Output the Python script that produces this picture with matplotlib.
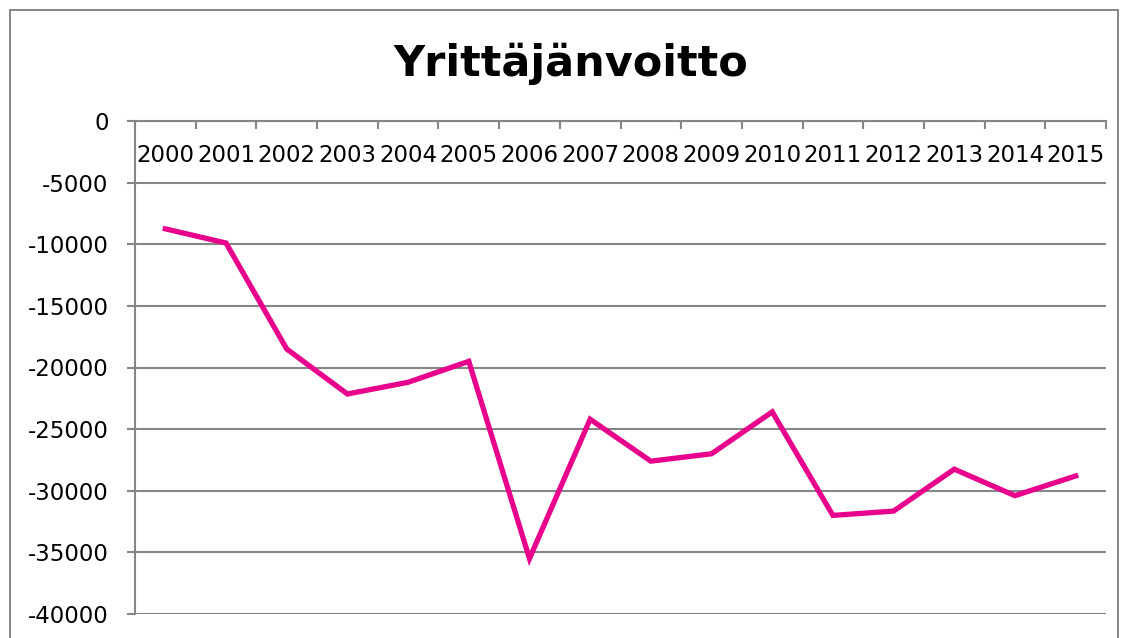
import matplotlib
matplotlib.use('Agg')
import matplotlib.pyplot as plt
import matplotlib.transforms as mtransforms
from matplotlib.patches import Rectangle
import numpy as np

# Yrittäjänvoitto vuosittain
years = ['2000', '2001', '2002', '2003', '2004', '2005', '2006', '2007',
         '2008', '2009', '2010', '2011', '2012', '2013', '2014', '2015']
values = [-8750, -9900, -18500, -22150, -21200, -19500, -35500, -24200,
          -27600, -27000, -23600, -32000, -31650, -28250, -30400, -28800]
y_ticks = [0, -5000, -10000, -15000, -20000, -25000, -30000, -35000, -40000]

W, H = 1122, 638
grid_col = '#868686'

fig = plt.figure(figsize=(W / 100, H / 100), dpi=100)
fig.patches.append(Rectangle((10 / W, -0.1), 1108 / W, 1.1 - 10 / H,
                             transform=fig.transFigure, fill=False,
                             edgecolor=grid_col, linewidth=1.4))

ax = fig.add_axes([135 / W, (H - 614) / H, (1106 - 135) / W, (614 - 121) / H])
x = np.arange(len(years))
ax.plot(x, values, color='#E8008C', linewidth=3.8, solid_joinstyle='miter')

ax.set_xlim(-0.5, len(years) - 0.5)
ax.set_ylim(-40000, 0)
ax.set_yticks(y_ticks)
ax.set_yticklabels([str(v) for v in y_ticks])
ax.yaxis.grid(True, color=grid_col, linewidth=1.5)
ax.set_axisbelow(True)

# category boundaries as ticks on the zero line
ax.set_xticks(np.arange(-0.5, len(years), 1.0))
ax.xaxis.tick_top()
ax.tick_params(axis='x', direction='in', length=6, width=1.5, color=grid_col,
               labeltop=False)
ax.tick_params(axis='y', direction='out', length=6, width=1.5, color=grid_col,
               pad=13, labelsize=16.5)

for s in ['right', 'bottom']:
    ax.spines[s].set_visible(False)
for s in ['top', 'left']:
    ax.spines[s].set_color(grid_col)
    ax.spines[s].set_linewidth(1.5)

trans = mtransforms.blended_transform_factory(ax.transData, ax.transAxes)
for i, yr in enumerate(years):
    ax.text(i, 1 - 35 / 493, yr, transform=trans, ha='center', va='center',
            fontsize=16.5)

fig.text(571 / W, (H - 76) / H, 'Yrittäjänvoitto', ha='center', va='baseline',
         fontsize=31, fontweight='bold')

plt.savefig('out.png', dpi=100)
